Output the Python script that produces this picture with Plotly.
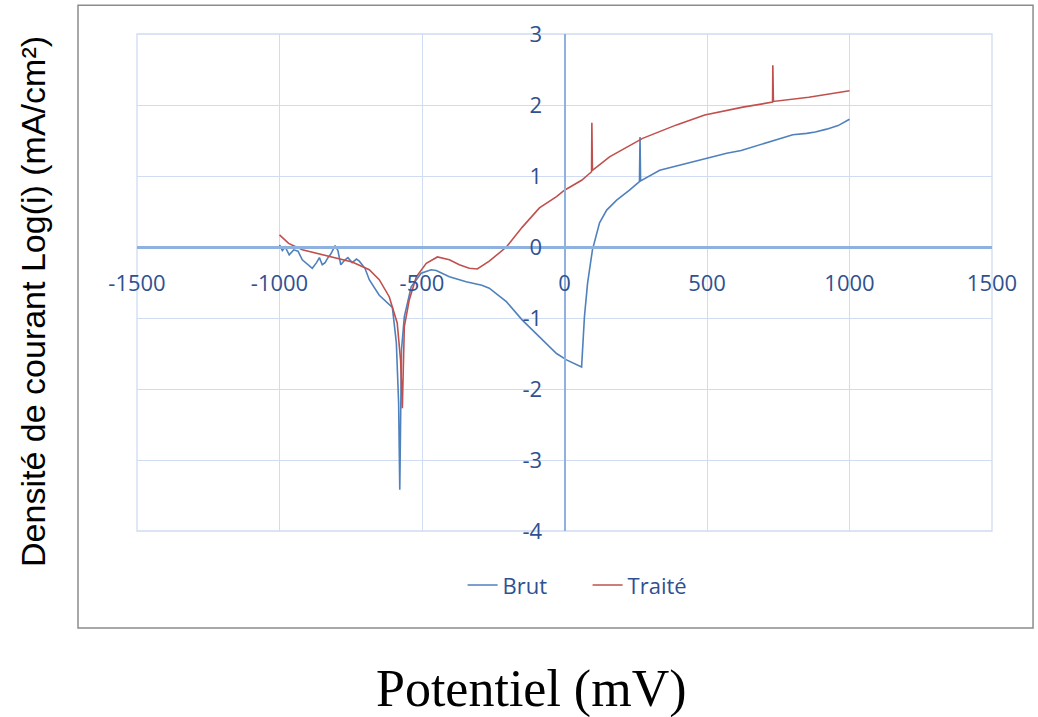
import plotly.graph_objects as go

# Brut (raw) series: potential (mV) and log current density
brut_x = [-1000, -990, -980, -970, -966, -950, -935, -920, -900, -885, -870, -860, -850, -840,
          -830, -820, -805, -795, -785, -770, -760, -745, -730, -720, -700, -685, -650, -604,
          -590, -582, -578, -574, -572, -562, -538, -503, -468, -450, -404, -345, -290, -264,
          -204, -148, -88, -28, 7, 60, 70, 81, 98, 123, 148, 183, 228, 263, 265, 267, 334,
          420, 492, 569, 620, 685, 740, 801, 850, 880, 920, 960, 1000]
brut_y = [0.03, -0.05, 0.0, -0.08, -0.11, -0.04, -0.06, -0.18, -0.25, -0.30, -0.22, -0.15, -0.25, -0.22,
          -0.15, -0.10, 0.02, -0.05, -0.25, -0.18, -0.15, -0.22, -0.17, -0.20, -0.30, -0.46, -0.68, -0.85,
          -1.35, -2.20, -3.42, -2.50, -1.45, -0.98, -0.56, -0.37, -0.32, -0.33, -0.42, -0.49, -0.54, -0.58,
          -0.77, -1.03, -1.27, -1.50, -1.59, -1.69, -0.98, -0.51, -0.04, 0.34, 0.52, 0.66, 0.80, 0.92, 1.55, 0.93, 1.08,
          1.17, 1.25, 1.32, 1.36, 1.44, 1.50, 1.58, 1.60, 1.62, 1.66, 1.71, 1.80]

# Traité (treated) series
traite_x = [-1000, -968, -920, -861, -801, -745, -685, -650, -615, -587, -575, -569, -562, -545,
            -520, -485, -446, -404, -369, -334, -306, -264, -204, -148, -88, -28, 0, 60, 95, 96, 98,
            158, 274, 393, 492, 626, 730, 731, 733, 857, 1000]
traite_y = [0.17, 0.05, -0.04, -0.10, -0.16, -0.21, -0.32, -0.46, -0.70, -1.07, -1.60, -2.27, -1.12, -0.75,
            -0.42, -0.23, -0.14, -0.18, -0.25, -0.30, -0.31, -0.20, 0.00, 0.28, 0.55, 0.71, 0.80, 0.94, 1.06, 1.75, 1.08,
            1.27, 1.53, 1.72, 1.86, 1.97, 2.04, 2.56, 2.05, 2.11, 2.20]

x_ticks = [-1500, -1000, -500, 0, 500, 1000, 1500]
y_ticks = [-4, -3, -2, -1, 0, 1, 2, 3]

TICK_COLOR = "#2f5191"
GRID = "#cfdcf1"
AXIS = "#8fb1e0"

fig = go.Figure()
fig.add_trace(go.Scatter(x=brut_x, y=brut_y, mode="lines", name="Brut",
                         line=dict(color="#4f81bd", width=1.6)))
fig.add_trace(go.Scatter(x=traite_x, y=traite_y, mode="lines", name="Traité",
                         line=dict(color="#c0504d", width=1.6)))

fig.update_layout(
    width=1038, height=717,
    margin=dict(l=137, r=46, t=34, b=186),
    paper_bgcolor="white", plot_bgcolor="white",
    font=dict(family="Open Sans", color=TICK_COLOR, size=22),
    showlegend=True,
    legend=dict(orientation="h", x=0.527, xanchor="center", y=-0.109, yanchor="middle",
                font=dict(size=22, color=TICK_COLOR), bgcolor="rgba(0,0,0,0)",
                entrywidth=80, entrywidthmode="pixels"),
    xaxis=dict(range=[-1500, 1500], tickvals=x_ticks, ticktext=[str(v) for v in x_ticks],
               showgrid=True, gridcolor=GRID, gridwidth=1.3, zeroline=False,
               anchor="free", position=4 / 7, showline=True, linecolor=AXIS, linewidth=2.5,
               ticks="", ticklabelstandoff=16, tickfont=dict(size=22, color=TICK_COLOR)),
    yaxis=dict(range=[-4, 3], tickvals=y_ticks, ticktext=[str(v) for v in y_ticks],
               showgrid=True, gridcolor=GRID, gridwidth=1.3, zeroline=False,
               anchor="free", position=0.5, showline=True, linecolor=AXIS, linewidth=1.8,
               ticks="", ticklabelstandoff=17, tickfont=dict(size=22, color=TICK_COLOR)),
    shapes=[
        dict(type="rect", xref="paper", yref="paper", x0=0, x1=1, y0=0, y1=1,
             line=dict(color=GRID, width=1.3), fillcolor="rgba(0,0,0,0)", layer="below"),
        dict(type="rect", xref="paper", yref="paper", x0=-0.069, x1=1.048, y0=-0.195, y1=1.058,
             line=dict(color="#8c8c8c", width=1.5), fillcolor="rgba(0,0,0,0)", layer="below"),
    ],
    annotations=[
        dict(text="Densité de courant Log(i) (mA/cm²)", xref="paper", yref="paper",
             x=-0.121, y=0.462, textangle=-90, showarrow=False, xanchor="center", yanchor="middle",
             font=dict(family="Liberation Sans", size=34, color="black")),
        dict(text="Potentiel (mV)", xref="paper", yref="paper", x=0.461, y=-0.318,
             showarrow=False, xanchor="center", yanchor="middle",
             font=dict(family="Liberation Serif, Times New Roman", size=52, color="black")),
    ],
)

fig.write_html("out.html", config={"displayModeBar": False},
               post_script="document.body.style.margin='0';")
